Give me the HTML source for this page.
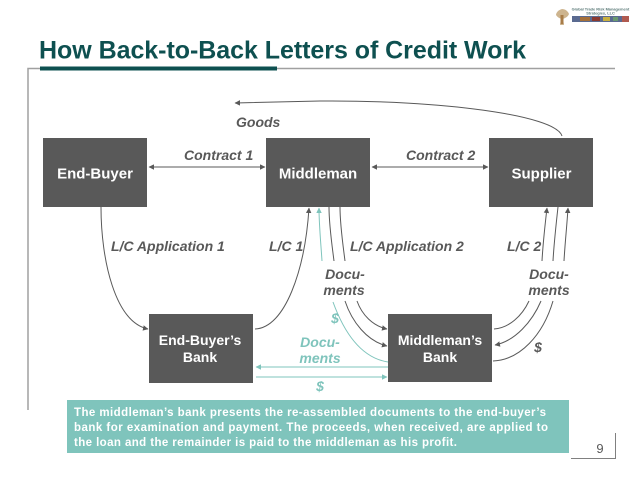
<!DOCTYPE html>
<html><head><meta charset="utf-8"><style>
html,body{margin:0;padding:0;background:#fff;width:638px;height:479px;overflow:hidden}
svg{display:block;font-family:"Liberation Sans",sans-serif}
.b{fill:#595959}
.w{fill:#fff;font-weight:bold;font-size:14px;text-anchor:middle}
.w2{fill:#fff;font-weight:bold;font-size:15px;text-anchor:middle}
.l{fill:#595959;font-weight:bold;font-style:italic;font-size:14px}
.t{fill:#7fc4bc;font-weight:bold;font-style:italic;font-size:14px}
.m{text-anchor:middle}
.d{fill:none;stroke:#595959;stroke-width:1}
.c{fill:none;stroke:#7fc4bc;stroke-width:1}
.p{fill:#fff;font-weight:bold;font-size:11.5px}
</style></head><body>
<svg width="638" height="479" viewBox="0 0 638 479" xmlns="http://www.w3.org/2000/svg">
<defs>
<marker id="a" viewBox="0 0 6 6" refX="5.5" refY="3" markerWidth="5.5" markerHeight="5.5" markerUnits="userSpaceOnUse" orient="auto-start-reverse"><path d="M0,0L6,3L0,6z" fill="#595959"/></marker>
<marker id="e" viewBox="0 0 6 6" refX="5.5" refY="3" markerWidth="5.5" markerHeight="5.5" markerUnits="userSpaceOnUse" orient="auto-start-reverse"><path d="M0,0L6,3L0,6z" fill="#7fc4bc"/></marker>
</defs>

<text x="39" y="58.5" font-size="25" font-weight="bold" fill="#0e5050" textLength="487" lengthAdjust="spacing">How Back-to-Back Letters of Credit Work</text>
<path d="M28,410V68.5H615" fill="none" stroke="#a0a0a0" stroke-width="1.5"/>
<rect x="40" y="66.5" width="237" height="4" fill="#0e5050"/>

<rect x="43" y="138" width="104" height="69" class="b"/>
<rect x="266" y="138" width="104" height="69" class="b"/>
<rect x="489" y="138" width="104" height="69" class="b"/>
<rect x="149" y="314" width="104" height="69" class="b"/>
<rect x="388" y="314" width="104" height="68" class="b"/>

<text x="95" y="178.5" class="w2">End-Buyer</text>
<text x="318" y="178.5" class="w2">Middleman</text>
<text x="541.5" y="178.5" class="w2">Supplier</text>
<text x="200" y="345" class="w">End-Buyer’s</text>
<text x="200" y="362" class="w">Bank</text>
<text x="440" y="345" class="w">Middleman’s</text>
<text x="440" y="362" class="w">Bank</text>

<path class="d" marker-end="url(#a)" d="M562,136C556,115 440,100 320,101L235,103"/>
<path class="d" marker-start="url(#a)" marker-end="url(#a)" d="M149,167H265"/>
<path class="d" marker-start="url(#a)" marker-end="url(#a)" d="M372,167H488"/>
<path class="d" marker-end="url(#a)" d="M101,207C101,260 115,322 148,329"/>
<path class="d" marker-end="url(#a)" d="M255,329C285,328 305,270 309,208"/>
<path class="c" marker-end="url(#e)" d="M322,261C321,245 319,225 319,208"/>
<path class="d" d="M329,207C329,225 332,245 334,261"/>
<path class="d" d="M340,207C340,225 343,245 345,261"/>
<path class="c" d="M333,302C345,335 362,358 388,362"/>
<path class="d" marker-end="url(#a)" d="M345,301C352,322 367,341 387,346"/>
<path class="d" marker-end="url(#a)" d="M357,301C362,315 373,326 387,329"/>
<path class="c" marker-end="url(#e)" d="M388,367H256"/>
<path class="c" marker-end="url(#e)" d="M256,377H387"/>
<path class="d" marker-end="url(#a)" d="M542,261C543,243 545,225 547,208"/>
<path class="d" d="M553,261C554,243 556,225 558,207"/>
<path class="d" marker-end="url(#a)" d="M564,261C565,243 567,225 568,208"/>
<path class="d" d="M529,301C522,316 509,328 494,329"/>
<path class="d" marker-end="url(#a)" d="M541,301C532,322 515,341 495,345"/>
<path class="d" d="M553,301C543,335 520,360 493,361"/>

<text x="236" y="127" class="l">Goods</text>
<text x="184" y="160" class="l">Contract 1</text>
<text x="406" y="160" class="l">Contract 2</text>
<text x="111" y="251" class="l">L/C Application 1</text>
<text x="269" y="251" class="l">L/C 1</text>
<text x="350" y="251" class="l">L/C Application 2</text>
<text x="507" y="251" class="l">L/C 2</text>
<text x="345" y="279" class="l m">Docu-</text>
<text x="344" y="295" class="l m">ments</text>
<text x="549" y="279" class="l m">Docu-</text>
<text x="549" y="295" class="l m">ments</text>
<text x="335" y="323" class="t m">$</text>
<text x="320" y="347" class="t m">Docu-</text>
<text x="320" y="363" class="t m">ments</text>
<text x="320" y="391" class="t m">$</text>
<text x="538" y="352" class="l m">$</text>

<rect x="67" y="400" width="502" height="53" fill="#7fc4bc"/>
<text x="74" y="416" class="p" textLength="472" lengthAdjust="spacing">The middleman’s bank presents the re-assembled documents to the end-buyer’s</text>
<text x="74" y="431" class="p" textLength="474" lengthAdjust="spacing">bank for examination and payment.  The proceeds, when received, are applied to</text>
<text x="74" y="446" class="p" textLength="383" lengthAdjust="spacing">the loan and the remainder is paid to the middleman as his profit.</text>

<path d="M571,458.5H615.5V433" fill="none" stroke="#808080" stroke-width="1"/>
<text x="600" y="453" font-size="13" fill="#595959" text-anchor="middle">9</text>

<text x="600.5" y="10.5" font-size="3.9" font-weight="bold" fill="#5b7a78" text-anchor="middle">Global Trade Risk Management</text>
<text x="600.5" y="14.5" font-size="3.9" font-weight="bold" fill="#5b7a78" text-anchor="middle">Strategies, LLC</text>
<rect x="572" y="16" width="57" height="6" fill="#5a6a90"/>
<rect x="580" y="17" width="10" height="4" fill="#a5703a"/>
<rect x="592" y="17" width="8" height="4" fill="#8a3a30"/>
<rect x="603" y="17" width="7" height="4" fill="#c8b040"/>
<rect x="613" y="17" width="5" height="4" fill="#6a9a70"/>
<rect x="622" y="16" width="7" height="6" fill="#b05a50"/>
<path d="M562,9C558,10 556,13 556,15C558,18 560,18 561,19L560,25H564L563,19C565,18 568,17 569,14C568,11 565,9 562,9z" fill="#cdb48e"/>
<rect x="560.5" y="15" width="3" height="9" fill="#a87c48"/>
</svg>
</body></html>
